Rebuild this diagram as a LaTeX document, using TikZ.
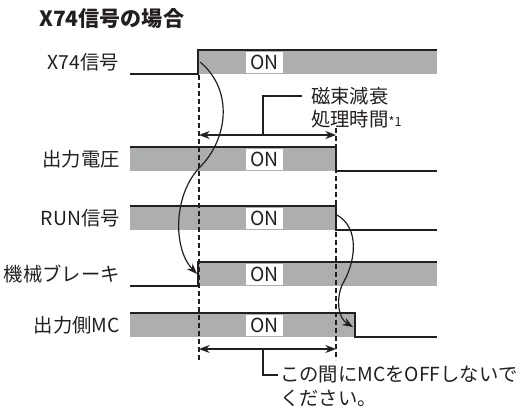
\documentclass[tikz,border=0pt]{standalone}
\usepackage{fontspec}
\setmainfont{Noto Sans CJK JP}
\usetikzlibrary{arrows.meta}
\definecolor{barfill}{HTML}{ADAEB0}
\definecolor{ink}{HTML}{231F20}
\begin{document}
\begin{tikzpicture}[x=0.75pt,y=-0.75pt,
  sig/.style={draw=ink, line width=1.2pt},
  bar/.style={fill=barfill},
  lbl/.style={anchor=east, inner sep=0pt, text=ink, font=\fontsize{14.5}{17}\selectfont},
  note/.style={anchor=west, inner sep=0pt, text=ink, font=\fontsize{14.5}{17}\selectfont},
  onbox/.style={fill=white, inner sep=0pt, minimum width=27.75pt, minimum height=15.5pt, text=ink, font=\fontsize{14.5}{17}\selectfont},
  guide/.style={draw=ink, line width=0.9pt, dash pattern=on 3.6pt off 2.4pt},
  dim/.style={draw=ink, line width=0.9pt, {Stealth[length=8pt,width=6pt]}-{Stealth[length=8pt,width=6pt]}},
  lead/.style={draw=ink, line width=0.9pt},
  cause/.style={draw=ink, line width=0.9pt, -{Stealth[length=8pt,width=6pt]}}
]
\useasboundingbox (0,0) rectangle (520,410);

% title
\node[anchor=west, inner sep=0pt, text=ink, font=\fontsize{15.8}{18}\selectfont\bfseries] (title) at (39,19) {X74信号の場合};

% labels
\node[lbl] (l1) at (119,62) {X74信号};
\node[lbl] (l2) at (120,159) {出力電圧};
\node[lbl] (l3) at (120,218) {RUN信号};
\node[lbl] (l4) at (120,274) {機械ブレーキ};
\node[lbl] (l5) at (120,325) {出力側MC};

% X74 signal
\fill[bar] (198,50) rectangle (437,74);
\draw[sig] (130,74) -- (198,74) -- (198,50) -- (437,50);
% output voltage
\fill[bar] (130,147) rectangle (336,171);
\draw[sig] (130,147) -- (336,147) -- (336,171) -- (437,171);
% RUN
\fill[bar] (130,206) rectangle (336,230);
\draw[sig] (130,206) -- (336,206) -- (336,230) -- (437,230);
% brake
\fill[bar] (198,262) rectangle (437,286);
\draw[sig] (130,286) -- (198,286) -- (198,262) -- (437,262);
% output MC
\fill[bar] (130,313) rectangle (355,337);
\draw[sig] (130,313) -- (355,313) -- (355,337) -- (437,337);

% ON boxes
\node[onbox] (on1) at (264.5,62.5) {ON};
\node[onbox] (on2) at (264.5,159.5) {ON};
\node[onbox] (on3) at (264.5,218.5) {ON};
\node[onbox] (on4) at (264.5,274.5) {ON};
\node[onbox] (on5) at (264.5,325.5) {ON};

% guide lines
\coordinate (gLt) at (199,75);
\coordinate (gLb) at (199,360);
\coordinate (gRt) at (336,128);
\coordinate (gRb) at (336,360);
\draw[guide] (gLt) -- (gLb);
\draw[guide] (gRt) -- (gRb);

% dimension arrows
\coordinate (d1a) at (199,135);
\coordinate (d1b) at (336,135);
\coordinate (d2a) at (199,349);
\coordinate (d2b) at (336,349);
\draw[dim] (d1a) -- (d1b);
\draw[dim] (d2a) -- (d2b);

% leader 1
\coordinate (k1a) at (263,135);
\coordinate (k1b) at (263,96);
\coordinate (k1c) at (302,96);
\draw[lead] (k1a) -- (k1b) -- (k1c);
\node[note] (n1) at (311,96) {磁束減衰};
\node[note] (n2) at (311,119) {処理時間{\fontsize{9.5}{10}\selectfont *1}};

% leader 2
\coordinate (k2a) at (263,349);
\coordinate (k2b) at (263,375);
\coordinate (k2c) at (278,375);
\draw[lead] (k2a) -- (k2b) -- (k2c);
\node[note] (n3) at (280,375) {この間にMCをOFFしないで};
\node[note] (n4) at (280,398) {ください。};

% cause arrows
\coordinate (c1s) at (200,62);
\coordinate (c1m) at (199,168);
\coordinate (c1e) at (197,274);
\draw[cause] (c1s) .. controls (234,90) and (228,140) .. (c1m)
  .. controls (172,198) and (174,250) .. (c1e);
\coordinate (c2s) at (337,215);
\coordinate (c2m) at (342,285);
\coordinate (c2e) at (353,327);
\draw[cause] (c2s) .. controls (360,228) and (356,262) .. (c2m)
  .. controls (336,300) and (338,318) .. (c2e);
\end{tikzpicture}
\end{document}
